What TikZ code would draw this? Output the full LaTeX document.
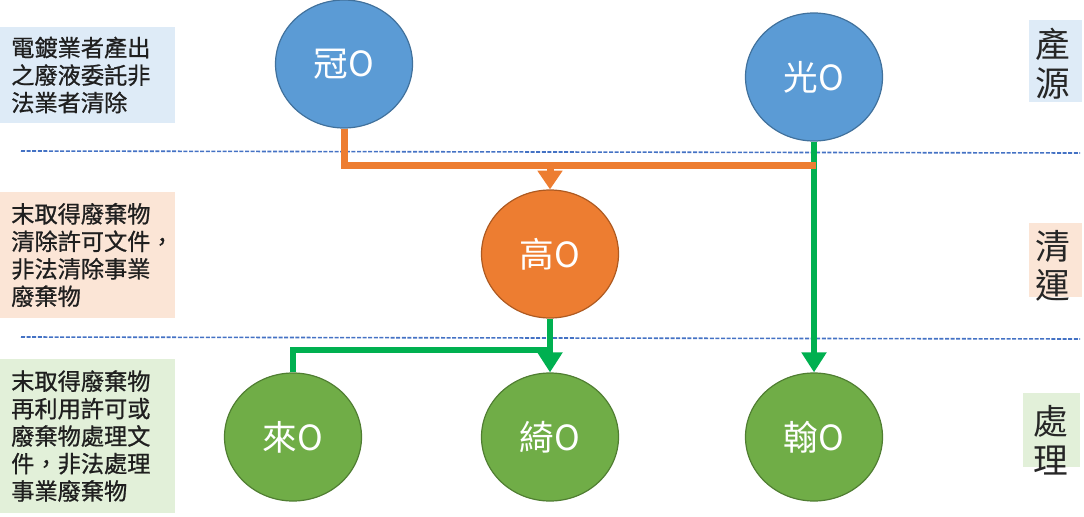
\documentclass[tikz,border=0pt]{standalone}
\usepackage{fontspec}
\setmainfont{Noto Sans CJK TC}
\newfontfamily\boldishcjk[FakeBold=0.8]{Noto Sans CJK TC}
\usetikzlibrary{arrows.meta,shapes.geometric}
\definecolor{blueC}{HTML}{5B9BD5}
\definecolor{blueB}{HTML}{41719C}
\definecolor{orangeC}{HTML}{ED7D31}
\definecolor{orangeB}{HTML}{AE5A21}
\definecolor{greenC}{HTML}{70AD47}
\definecolor{greenB}{HTML}{507E32}
\definecolor{lineG}{HTML}{00B050}
\definecolor{dashB}{HTML}{4472C4}
\definecolor{boxB}{HTML}{DEEBF7}
\definecolor{boxO}{HTML}{FBE5D6}
\definecolor{boxG}{HTML}{E2F0D9}
\begin{document}
\begin{tikzpicture}[x=0.75pt,y=-0.75pt,
  circ/.style={ellipse, minimum width=102.75pt, minimum height=96pt, inner sep=0pt,
    line width=0.9pt, text=white, font=\fontsize{26}{30}\selectfont},
  bluecirc/.style={circ, fill=blueC, draw=blueB},
  orangecirc/.style={circ, fill=orangeC, draw=orangeB},
  greencirc/.style={circ, fill=greenC, draw=greenB},
  divider/.style={dashB, line width=1.2pt, dash pattern=on 3pt off 1.2pt},
  oline/.style={orangeC, line width=5.25pt},
  oarrow/.style={orangeC, line width=5.25pt, -{Triangle[width=18pt,length=14pt]}},
  gline/.style={lineG, line width=4.5pt},
  garrow/.style={lineG, line width=4.5pt, -{Triangle[width=18pt,length=15pt]}},
  lefttext/.style={anchor=west, align=left, inner sep=0pt, text=black!88,
    font=\boldishcjk\fontsize{17.4}{20.6}\selectfont},
  sidetext/.style={align=center, inner sep=0pt, text=black!85,
    font=\fontsize{26}{29}\selectfont}
]
\useasboundingbox (0,0) rectangle (1084,517);

% left boxes
\fill[boxB] (0,27) rectangle (175,123);
\fill[boxO] (0,192) rectangle (175,318);
\fill[boxG] (0,359) rectangle (175,513);
\node[lefttext] (t1) at (11,75) {電鍍業者產出\\之廢液委託非\\法業者清除};
\node[lefttext] (t2) at (11,255) {末取得廢棄物\\清除許可文件，\\非法清除事業\\廢棄物};
\node[lefttext] (t3) at (11,436) {末取得廢棄物\\再利用許可或\\廢棄物處理文\\件，非法處理\\事業廢棄物};

% right boxes
\fill[boxB] (1029,20) rectangle (1082,102);
\fill[boxO] (1029,223) rectangle (1082,297);
\fill[boxG] (1023,393) rectangle (1080,467);
\node[sidetext] (s1) at (1053,64) {產\\源};
\node[sidetext] (s2) at (1053,266) {清\\運};
\node[sidetext] (s3) at (1051,440) {處\\理};

% dividers
\coordinate (d1a) at (21,151);
\coordinate (d1b) at (1080,153);
\coordinate (d2a) at (21,337);
\coordinate (d2b) at (1080,339);
\draw[divider] (d1a) -- (d1b);
\draw[divider] (d2a) -- (d2b);

% nodes
\node[bluecirc] (guan) at (344,64) {冠O};
\node[bluecirc] (guang) at (814,77) {光O};
\node[orangecirc] (gao) at (550,254) {高O};
\node[greencirc] (lai) at (293,437) {來O};
\node[greencirc] (qi) at (550,437) {綺O};
\node[greencirc] (han) at (814,437) {翰O};

% connectors
\coordinate (oj) at (816,165);
\coordinate (om) at (550,165);
\coordinate (gm) at (550,350);
\draw[garrow] (guang.south) -- (han.north);
\draw[oline] (guan.south) |- (oj);
\draw[oarrow] (om) -- (gao.north);
\draw[garrow] (gao.south) -- (qi.north);
\draw[gline] (gm) -| (lai.north);
\end{tikzpicture}
\end{document}
